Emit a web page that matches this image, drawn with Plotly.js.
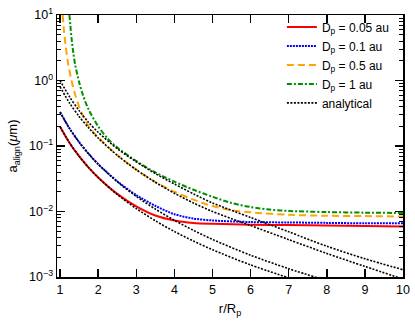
<!DOCTYPE html>
<html>
<head>
<meta charset="utf-8">
<script src="https://cdn.plot.ly/plotly-3.0.1.min.js"></script>
<style>
  html, body { margin: 0; padding: 0; background: #fff; }
  #plot { width: 415px; height: 321px; }
</style>
</head>
<body>
<div id="plot"></div>
<script>
// numerical results, one per planet distance
const rRed = [1, 1.25, 1.5, 1.75, 2, 2.5, 3, 3.5, 4, 4.5, 5, 6, 7, 8, 9, 10];
const aRed = [0.197, 0.1114, 0.0698, 0.0468, 0.0331, 0.0186, 0.0120, 0.0087, 0.0073, 0.0067, 0.0065, 0.0063, 0.0062, 0.0061, 0.0060, 0.0059];

const rBlue = [1, 1.25, 1.5, 1.75, 2, 2.5, 3, 3.5, 4, 4.5, 5, 6, 7, 8, 9, 10];
const aBlue = [0.330, 0.185, 0.1146, 0.0759, 0.0529, 0.0290, 0.0178, 0.0122, 0.0091, 0.0078, 0.0073, 0.0069, 0.0068, 0.0067, 0.0066, 0.0066];

const rOrange = [1.07, 1.1, 1.15, 1.2, 1.3, 1.4, 1.5, 1.6, 1.75, 2, 2.5, 3, 3.5, 4, 4.5, 5, 5.5, 6, 7, 8, 9, 10];
const aOrange = [10, 6.0, 3.3, 2.0, 1.0, 0.6, 0.40, 0.29, 0.20, 0.135, 0.073, 0.0436, 0.0282, 0.0200, 0.0152, 0.0121, 0.0105, 0.0097, 0.0089, 0.0086, 0.0085, 0.0084];

const rGreen = [1.245, 1.27, 1.3, 1.35, 1.4, 1.5, 1.6, 1.75, 2, 2.25, 2.5, 3, 3.5, 4, 4.5, 5, 5.5, 6, 6.5, 7, 8, 9, 10];
const aGreen = [10, 7, 4.5, 2.6, 1.7, 0.95, 0.6, 0.36, 0.2, 0.13, 0.095, 0.059, 0.0395, 0.0285, 0.0215, 0.0168, 0.0135, 0.0117, 0.0107, 0.0102, 0.0098, 0.0096, 0.0095];

// analytical curves
const rAnaRed = [1, 1.25, 1.5, 1.75, 2, 2.5, 3, 3.5, 4, 4.5, 5, 6, 7];
const aAnaRed = [0.197, 0.1114, 0.0698, 0.0468, 0.0330, 0.0182, 0.0111, 0.00723, 0.00495, 0.00354, 0.00261, 0.00153, 0.00097];

const rAnaBlue = [1, 1.25, 1.5, 1.75, 2, 2.5, 3, 3.5, 4, 4.5, 5, 6, 7, 8];
const aAnaBlue = [0.330, 0.185, 0.1146, 0.0759, 0.0528, 0.0285, 0.0170, 0.0109, 0.00735, 0.00516, 0.00375, 0.00215, 0.00134, 0.00088];

const rAnaOrange = [1, 1.25, 1.5, 1.75, 2, 2.5, 3, 3.5, 4, 4.5, 5, 5.5, 6, 7, 8, 9, 10];
const aAnaOrange = [0.800, 0.453, 0.283, 0.189, 0.1324, 0.0721, 0.0434, 0.0280, 0.0190, 0.0135, 0.0100, 0.00776, 0.0061, 0.00372, 0.00229, 0.00145, 0.00093];

const rAnaGreen = [1, 1.25, 1.5, 1.75, 2, 2.5, 3, 3.5, 4, 4.5, 5, 6, 7, 8, 9, 10];
const aAnaGreen = [1.0, 0.562, 0.347, 0.229, 0.162, 0.0912, 0.0575, 0.038, 0.0263, 0.0186, 0.0135, 0.0081, 0.0049, 0.00295, 0.00190, 0.00129];

const legendNames = ['D<sub>p</sub> = 0.05 au', 'D<sub>p</sub> = 0.1 au', 'D<sub>p</sub> = 0.5 au', 'D<sub>p</sub> = 1 au', 'analytical'];

const yTickVals = [0.001, 0.01, 0.1, 1, 10];
const yTickText = ['10<sup>\u22123</sup>', '10<sup>\u22122</sup>', '10<sup>\u22121</sup>', '10<sup>0</sup>', '10<sup>1</sup>'];
const yMinorVals = [];
[0.001, 0.01, 0.1, 1].forEach(d => {
    for (let k = 2; k <= 9; k++) yMinorVals.push(d * k);
});
const xTickVals = [1, 2, 3, 4, 5, 6, 7, 8, 9, 10];

const font = 'Liberation Sans, Arial, sans-serif';

function numTrace(x, y, name, color, dash) {
    return {
        x: x, y: y, name: name, mode: 'lines', type: 'scatter',
        line: { color: color, width: 2, dash: dash, shape: 'spline', smoothing: 0.8 }
    };
}
function anaTrace(x, y, show) {
    return {
        x: x, y: y, name: legendNames[4], mode: 'lines', type: 'scatter',
        legendgroup: 'ana', showlegend: show,
        line: { color: 'black', width: 1.6, dash: '2px,1.5px', shape: 'spline', smoothing: 0.8 }
    };
}

const data = [
    numTrace(rRed, aRed, legendNames[0], '#ff0000', 'solid'),
    numTrace(rBlue, aBlue, legendNames[1], '#0000ff', '2px,1px'),
    numTrace(rOrange, aOrange, legendNames[2], '#ffa500', '7px,4px'),
    numTrace(rGreen, aGreen, legendNames[3], '#008f00', '5px,2px,2px,2px'),
    anaTrace(rAnaRed, aAnaRed, true),
    anaTrace(rAnaBlue, aAnaBlue, false),
    anaTrace(rAnaOrange, aAnaOrange, false),
    anaTrace(rAnaGreen, aAnaGreen, false)
];

const layout = {
    width: 415, height: 321,
    margin: { l: 57, r: 12, t: 12, b: 44 },
    paper_bgcolor: 'white', plot_bgcolor: 'white',
    font: { family: font, size: 12, color: 'black' },
    showlegend: true,
    legend: {
        x: 0.65, y: 1.01, xanchor: 'left', yanchor: 'top',
        bgcolor: 'rgba(0,0,0,0)', font: { size: 12 }, tracegroupgap: 0
    },
    xaxis: {
        range: [0.92, 10.0], showgrid: false, zeroline: false,
        showline: true, linecolor: 'black', linewidth: 1.5, mirror: 'ticks',
        ticks: 'inside', ticklen: 8, tickwidth: 1.5, tickcolor: 'black',
        tickmode: 'array', tickvals: xTickVals,
        tickfont: { size: 12.5 },
        title: { text: 'r/R<sub>p</sub>', font: { size: 13 }, standoff: 8 }
    },
    yaxis: {
        type: 'log', range: [-3, 1], showgrid: false, zeroline: false,
        showline: true, linecolor: 'black', linewidth: 1.5, mirror: 'ticks',
        ticks: 'inside', ticklen: 8, tickwidth: 1.5, tickcolor: 'black',
        tickmode: 'array', tickvals: yTickVals, ticktext: yTickText,
        tickfont: { size: 12.5 },
        minor: { ticks: 'inside', ticklen: 4, tickwidth: 1, tickcolor: 'black', tickmode: 'array', tickvals: yMinorVals, showgrid: false },
        title: { text: 'a<sub>align</sub>(<i>\u03bc</i>m)', font: { size: 13 }, standoff: 8 }
    }
};

Plotly.newPlot('plot', data, layout, { staticPlot: true });
</script>
</body>
</html>
